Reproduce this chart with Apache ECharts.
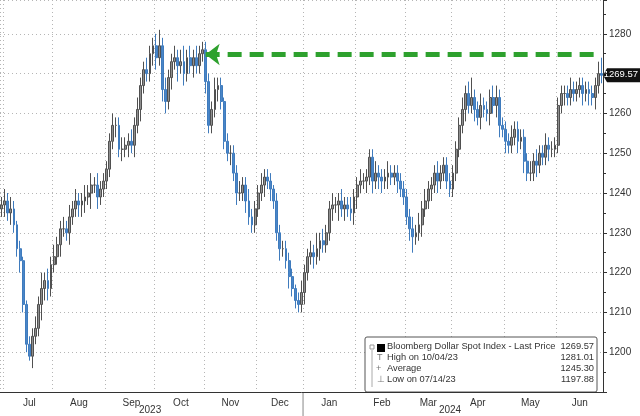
<!DOCTYPE html>
<html><head><meta charset="utf-8">
<script src="https://cdn.jsdelivr.net/npm/echarts@6/dist/echarts.min.js"></script>
<style>html,body{margin:0;padding:0;background:#fff}#c{width:640px;height:416px}</style>
</head><body><div id="c"></div>
<script>
const months = ['Jun','Jul','Aug','Sep','Oct','Nov','Dec','Jan','Feb','Mar','Apr','May','Jun'];
const monthYears = [2023,2023,2023,2023,2023,2023,2023,2024,2024,2024,2024,2024,2024];
const closes = [
 [1237],
 [1238,1235,1236,1232,1226,1223,1212,1202,1199,1204,1206,1212,1216,1218,1216,1222],
 [1224,1227,1231,1231,1230,1234,1236,1238,1237,1238,1239,1240,1242,1242,1239,1241,1243],
 [1246,1253,1257,1257,1251,1251,1252,1253,1252,1257,1261,1267,1271,1270,1275,1277],
 [1274,1277,1266,1263,1269,1273,1274,1272,1273,1270,1274,1272,1274,1272,1275,1276],
 [1268,1257,1261,1266,1267,1263,1253,1250,1250,1245,1240,1240,1242,1238,1234,1232,1236],
 [1240,1242,1244,1243,1241,1238,1230,1226,1226,1223,1219,1216,1213,1212,1215],
 [1220,1224,1225,1224,1226,1228,1227,1230,1236,1237,1237,1238,1236,1237,1236,1235,1239],
 [1242,1243,1243,1244,1249,1243,1245,1244,1243,1244,1245,1244,1245,1243,1241,1239],
 [1234,1231,1229,1230,1232,1236,1238,1241,1242,1245,1243,1245,1247,1243,1241],
 [1245,1251,1257,1261,1265,1262,1264,1261,1259,1262,1261,1260,1264,1262,1264,1257,1256],
 [1253,1252,1254,1256,1253,1254,1248,1245,1245,1248,1247,1250,1249,1252,1251,1251,1252],
 [1262,1265,1265,1264,1266,1265,1266,1267,1265,1266,1265,1264,1267,1270,1269.57]
];
const wickUp = [
 [2],
 [3,2,3,2,1,2,1,1,2,2,3,2,4,2,3,2],
 [3,2,2,3,2,3,2,3,2,2,3,2,3,2,3,2,2],
 [2,2,3,2,2,3,2,2,3,2,3,2,2,3,2,2],
 [3,4.01,2,3,2,2,3,2,3,4,2,3,2,3,2,2],
 [2,2,2,3,2,2,1,2,2,2,2,3,2,2,3,2,2],
 [2,3,2,2,2,1,2,2,2,2,2,2,1,2,3],
 [2,2,3,2,4,2,3,2,2,3,2,2,3,2,2,3,2],
 [2,3,2,2,2,2,3,2,2,2,3,2,2,2,2,2],
 [2,2,3,2,3,2,3,2,2,2,3,2,2,2,2],
 [2,2,2,3,2,3,5,2,2,3,2,2,2,3,3,2,2],
 [2,2,3,2,2,2,2,2,3,2,3,2,2,3,2,2,2],
 [2,2,2,2,3,2,2,2,2,2,2,2,2,3,4]
];
const wickDown = [
 [2],
 [3,2,3,2,2,3,2,2,1.12,3,2,2,4,3,3,2],
 [2,2,3,2,2,3,2,2,3,3,3,2,4,2,3,2,2],
 [2,2,2,3,2,3,2,3,2,3,2,3,2,2,2,3],
 [3,2,3,3,2,3,2,4,2,3,2,2,3,2,2,2],
 [3,2,2,2,3,2,2,2,3,2,3,2,2,3,2,2,2],
 [2,2,3,2,3,2,2,3,2,2,3,2,2,2,2],
 [3,2,2,3,2,3,2,2,2,3,2,4,2,3,2,2,3],
 [3,2,2,3,2,3,2,3,3,2,3,2,2,3,2,2],
 [2,3,4,2,2,3,2,2,3,2,3,2,2,2,2],
 [2,2,2,2,3,2,2,3,2,3,2,2,3,2,3,3,2],
 [3,2,2,2,3,2,3,2,2,2,3,2,2,2,3,2,2],
 [2,2,3,2,2,2,2,2,3,2,3,2,3,2,2]
];
const yTicks = {min:1190, max:1288.5, interval:10};
const legendRows = [
 ['Bloomberg Dollar Spot Index - Last Price','1269.57'],
 ['High on 10/04/23','1281.01'],
 ['Average','1245.30'],
 ['Low on 07/14/23','1197.88']
];
const arrowLevel = 1274.8;
const arrowStartIdx = 66;

const categories = [], ohlc = [], monthStart = {}, monthMid = {}, monthFirst = [];
let prev = null;
closes.forEach((m, mi) => {
  monthStart[categories.length] = true;
  monthFirst.push(categories.length);
  if (m.length > 3) monthMid[categories.length + Math.floor(m.length/2)] = months[mi];
  m.forEach((c, j) => {
    const o = prev === null ? c - 1 : prev;
    const hi = Math.max(o, c) + wickUp[mi][j];
    const lo = Math.min(o, c) - wickDown[mi][j];
    categories.push(months[mi] + ' ' + monthYears[mi] + ' #' + j);
    ohlc.push([o, c, +lo.toFixed(2), +hi.toFixed(2)]);
    prev = c;
  });
});
const lastIdx = categories.length - 1;
const lastClose = closes[closes.length-1][closes[closes.length-1].length-1];

const chart = echarts.init(document.getElementById('c'));
const font = 'Liberation Sans, Arial, sans-serif';
chart.setOption({
  animation:false,
  grid:{left:0, right:37, top:0, bottom:24},
  xAxis:{type:'category', data:categories, boundaryGap:true,
    axisLine:{lineStyle:{color:'#333'}},
    axisTick:{interval:(i)=>!!monthStart[i], length:4, lineStyle:{color:'#333'}},
    splitLine:{show:true, interval:(i)=>!!monthStart[i], lineStyle:{color:'#b5b5b5', type:[1,3]}},
    axisLabel:{interval:(i)=>!!monthMid[i], formatter:(v,i)=>monthMid[i]||'', color:'#333', fontFamily:font, fontSize:10, margin:6}
  },
  yAxis:{type:'value', position:'right', min:yTicks.min, max:yTicks.max, interval:yTicks.interval,
    axisLine:{show:true, lineStyle:{color:'#333'}},
    axisTick:{show:true, length:4, lineStyle:{color:'#333'}},
    minorTick:{show:true, splitNumber:2, length:3, lineStyle:{color:'#333'}},
    splitLine:{lineStyle:{color:'#b5b5b5', type:[1,3]}},
    axisLabel:{color:'#333', fontFamily:font, fontSize:10, margin:6, formatter:v=> (v===1190||v>1285||v===1270)?'':v}
  },
  series:[{
    type:'candlestick', data:ohlc, barWidth:'75%',
    itemStyle:{color:'#8f8f8f', color0:'#4a86c8', borderColor:'#505050', borderColor0:'#3f7bbd', borderWidth:1},
    markLine:{silent:true, symbol:'none', animation:false,
      data:[
        [{coord:[arrowStartIdx, arrowLevel], symbol:'arrow', symbolSize:[16,14], lineStyle:{color:'#2ea12e', width:5, type:[14,8]}, label:{show:false}},
         {coord:[lastIdx, arrowLevel], symbol:'none'}]
      ]
    }
  }]
});
const px = i => chart.convertToPixel({xAxisIndex:0}, i);
const yLast = chart.convertToPixel({yAxisIndex:0}, lastClose);
const yearSep = (px(monthFirst[7]) + px(monthFirst[7]-1))/2;
const lf = '9.3px ' + font;
const rows = legendRows.map((r,i)=>[
  {type:'text', left:387, top:342+i*11, style:{text:r[0], fill:'#333', font:lf}},
  {type:'text', right:46, top:342+i*11, style:{text:r[1], fill:'#333', font:lf}}
]).flat();
chart.setOption({graphic:[
  {type:'text', left:px(48)-11, top:405, style:{text:'2023', fill:'#333', font:'10px '+font}},
  {type:'text', left:px(145)-11, top:405, style:{text:'2024', fill:'#333', font:'10px '+font}},
  {type:'line', shape:{x1:yearSep, y1:392, x2:yearSep, y2:416}, style:{stroke:'#888', lineWidth:1}},
  {type:'polygon', shape:{points:[[603,yLast],[607,yLast-7],[640,yLast-7],[640,yLast+7],[607,yLast+7]]}, style:{fill:'#111'}},
  {type:'text', right:2, top:yLast-5.5, style:{text:String(lastClose), fill:'#fff', font:'9.5px '+font}},
  {type:'rect', shape:{x:365, y:337, width:232, height:55, r:2}, style:{fill:'#fff', stroke:'#555', lineWidth:1}},
  {type:'rect', shape:{x:377, y:344, width:8, height:8}, style:{fill:'#000'}},
  {type:'rect', shape:{x:370, y:345, width:4, height:4}, style:{fill:'none', stroke:'#999'}},
  {type:'line', shape:{x1:372, y1:350, x2:372, y2:387}, style:{stroke:'#aaa', lineWidth:1}},
  {type:'text', left:377, top:353, style:{text:'T', fill:'#777', font:'9px '+font}},
  {type:'text', left:376, top:364, style:{text:'+', fill:'#777', font:'9px '+font}},
  {type:'text', left:377, top:375, style:{text:'⊥', fill:'#777', font:'9px '+font}},
  ...rows
]});
</script></body></html>
